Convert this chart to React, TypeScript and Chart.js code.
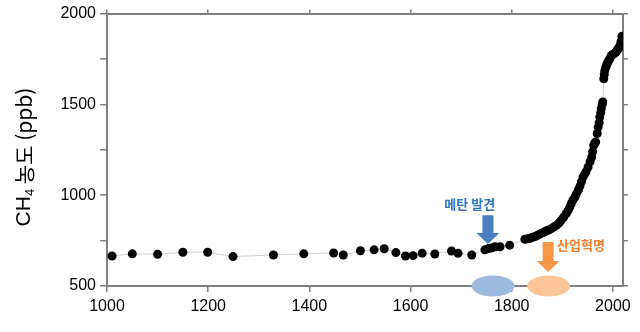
import React, { useEffect, useRef } from "react";
import { Chart, registerables } from "chart.js";

Chart.register(...registerables);

const YEARS = [
  1010, 1050, 1100, 1150, 1199, 1249, 1329, 1389, 1448, 1467,
  1501, 1528, 1548, 1571, 1590, 1605, 1623, 1648, 1681, 1694,
  1721, 1747, 1754, 1760, 1767, 1777, 1796, 1826, 1832, 1836,
  1841, 1846, 1851, 1855, 1859, 1864, 1869, 1874, 1879, 1884,
  1889, 1894, 1898, 1903, 1908, 1912, 1915, 1918, 1921, 1925,
  1928, 1932, 1935, 1938, 1941, 1944, 1947, 1951, 1955, 1958,
  1960, 1962, 1964, 1966, 1969, 1971, 1973, 1974, 1976, 1977,
  1979, 1980, 1982, 1983, 1984, 1986, 1988, 1990, 1992, 1994,
  1997, 2000, 2003, 2006, 2008, 2010, 2012, 2014, 2016, 2018,
];
const CH4_PPB = [
  665, 677, 675, 686, 686, 662, 671, 677, 682, 671,
  694, 699, 705, 684, 665, 667, 681, 676, 693, 680,
  671, 699, 706, 709, 716, 716, 725, 757, 760, 763,
  768, 772, 779, 785, 791, 797, 804, 810, 817, 826,
  835, 848, 863, 880, 899, 918, 936, 955, 973, 990,
  1009, 1030, 1050, 1075, 1100, 1115, 1130, 1155, 1185, 1210,
  1240, 1275, 1285, 1293, 1340, 1375, 1400, 1430, 1455, 1476,
  1500, 1513, 1641, 1665, 1686, 1705, 1720, 1732, 1742, 1752,
  1769, 1775, 1780, 1788, 1795, 1805, 1812, 1824, 1845, 1875,
];

const X_TICKS = [1000, 1200, 1400, 1600, 1800, 2000];
const Y_TICKS = [500, 750, 1000, 1250, 1500, 1750, 2000];
const Y_LABELED = [500, 1000, 1500, 2000];
const X_MIN = 1000;
const X_MAX = 2020;
const Y_MIN = 500;
const Y_MAX = 2000;

const Y_TITLE_MAIN = "CH";
const Y_TITLE_SUB = "4";
const Y_TITLE_REST = " 농도 (ppb)";

const DISCOVERY_LABEL = "메탄 발견";
const INDUSTRIAL_LABEL = "산업혁명";
// annotation anchors in data units: [year, ppb]
const DISCOVERY_ARROW = [1753, 890, 731];
const DISCOVERY_TEXT = [1717, 952];
const DISCOVERY_ELLIPSE = [1763, 500];
const INDUSTRIAL_ARROW = [1872, 742, 577];
const INDUSTRIAL_TEXT = [1937, 727];
const INDUSTRIAL_ELLIPSE = [1873, 500];

const AXIS_COLOR = "#7f7f7f";
const FONT = "'Liberation Sans', Arial, 'Noto Sans CJK KR', sans-serif";
const KFONT = "'Noto Sans CJK KR', 'Liberation Sans', sans-serif";

function drawDownArrow(ctx: CanvasRenderingContext2D, cx: number, top: number, tip: number, color: string) {
  const shaftHalf = 5.5;
  const headHalf = 11.5;
  const headLen = 11;
  ctx.save();
  ctx.fillStyle = color;
  ctx.beginPath();
  ctx.moveTo(cx - shaftHalf, top);
  ctx.lineTo(cx + shaftHalf, top);
  ctx.lineTo(cx + shaftHalf, tip - headLen);
  ctx.lineTo(cx + headHalf, tip - headLen);
  ctx.lineTo(cx, tip);
  ctx.lineTo(cx - headHalf, tip - headLen);
  ctx.lineTo(cx - shaftHalf, tip - headLen);
  ctx.closePath();
  ctx.fill();
  ctx.restore();
}

const annotationPlugin = {
  id: "annotations",
  afterDraw(chart: any) {
    const ctx: CanvasRenderingContext2D = chart.ctx;
    const xs = chart.scales.x;
    const ys = chart.scales.y;

    const ell = (pt: number[], color: string) => {
      ctx.save();
      ctx.fillStyle = color;
      ctx.beginPath();
      ctx.ellipse(xs.getPixelForValue(pt[0]), ys.getPixelForValue(pt[1]), 21.5, 10.5, 0, 0, Math.PI * 2);
      ctx.fill();
      ctx.restore();
    };
    ell(DISCOVERY_ELLIPSE, "#9db9dd");
    ell(INDUSTRIAL_ELLIPSE, "#fbc598");

    drawDownArrow(ctx, xs.getPixelForValue(DISCOVERY_ARROW[0]), ys.getPixelForValue(DISCOVERY_ARROW[1]), ys.getPixelForValue(DISCOVERY_ARROW[2]), "#4a7ebf");
    drawDownArrow(ctx, xs.getPixelForValue(INDUSTRIAL_ARROW[0]), ys.getPixelForValue(INDUSTRIAL_ARROW[1]), ys.getPixelForValue(INDUSTRIAL_ARROW[2]), "#f79646");

    ctx.save();
    ctx.textAlign = "center";
    ctx.textBaseline = "middle";
    ctx.font = `bold 13px ${KFONT}`;
    ctx.fillStyle = "#2e75c2";
    ctx.fillText(DISCOVERY_LABEL, xs.getPixelForValue(DISCOVERY_TEXT[0]), ys.getPixelForValue(DISCOVERY_TEXT[1]));
    ctx.fillStyle = "#f07f2c";
    ctx.fillText(INDUSTRIAL_LABEL, xs.getPixelForValue(INDUSTRIAL_TEXT[0]), ys.getPixelForValue(INDUSTRIAL_TEXT[1]));
    ctx.restore();

    // y-axis title with subscript
    ctx.save();
    ctx.translate(24, 157);
    ctx.rotate(-Math.PI / 2);
    ctx.fillStyle = "#000";
    ctx.textBaseline = "middle";
    ctx.textAlign = "left";
    const mainFont = `21px ${FONT}`;
    const subFont = `13px ${FONT}`;
    const restFont = `21px ${KFONT}`;
    ctx.font = mainFont;
    const w1 = ctx.measureText(Y_TITLE_MAIN).width;
    ctx.font = subFont;
    const w2 = ctx.measureText(Y_TITLE_SUB).width;
    ctx.font = restFont;
    const w3 = ctx.measureText(Y_TITLE_REST).width;
    let x = -(w1 + w2 + w3) / 2;
    ctx.font = mainFont;
    ctx.fillText(Y_TITLE_MAIN, x, 0);
    x += w1;
    ctx.font = subFont;
    ctx.fillText(Y_TITLE_SUB, x, 6);
    x += w2;
    ctx.font = restFont;
    ctx.fillText(Y_TITLE_REST, x, 0);
    ctx.restore();
  },
};

export default function App() {
  const ref = useRef<HTMLCanvasElement>(null);

  useEffect(() => {
    if (!ref.current) return;
    const points = YEARS.map((yr, i) => ({ x: yr, y: CH4_PPB[i] }));
    const gridBase = {
      display: true,
      drawOnChartArea: false,
      drawTicks: true,
      color: AXIS_COLOR,
      lineWidth: 1.5,
    };
    const chart = new Chart(ref.current, {
      type: "line",
      data: {
        datasets: [
          {
            data: points,
            borderColor: "#cfcfcf",
            borderWidth: 1,
            pointRadius: 4.5,
            pointHoverRadius: 4.5,
            pointBackgroundColor: "#000",
            pointBorderColor: "#000",
            pointBorderWidth: 0,
            tension: 0,
            xAxisID: "x",
            yAxisID: "y",
          },
        ],
      },
      options: {
        animation: false,
        responsive: false,
        devicePixelRatio: 1,
        layout: { padding: 0 },
        plugins: { legend: { display: false }, tooltip: { enabled: false } },
        scales: {
          x: {
            type: "linear",
            position: "bottom",
            min: X_MIN,
            max: X_MAX,
            afterBuildTicks: (s: any) => {
              s.ticks = X_TICKS.map((v) => ({ value: v }));
            },
            afterFit: (s: any) => {
              s.height = 46;
            },
            grid: { ...gridBase, tickLength: 6 },
            border: { display: true, color: AXIS_COLOR, width: 2 },
            ticks: {
              color: "#000",
              font: { size: 16, family: FONT },
              padding: 5,
              maxRotation: 0,
              autoSkip: false,
              callback: (v: any) => String(v),
            },
          },
          x2: {
            type: "linear",
            position: "top",
            min: X_MIN,
            max: X_MAX,
            afterBuildTicks: (s: any) => {
              s.ticks = X_TICKS.map((v) => ({ value: v }));
            },
            afterFit: (s: any) => {
              s.height = 13;
            },
            grid: { ...gridBase, tickLength: 4 },
            border: { display: true, color: AXIS_COLOR, width: 2 },
            ticks: { display: false },
          },
          y: {
            type: "linear",
            position: "left",
            min: Y_MIN,
            max: Y_MAX,
            afterBuildTicks: (s: any) => {
              s.ticks = Y_TICKS.map((v) => ({ value: v }));
            },
            afterFit: (s: any) => {
              s.width = 107;
            },
            grid: { ...gridBase, tickLength: 7 },
            border: { display: true, color: AXIS_COLOR, width: 2 },
            ticks: {
              color: "#000",
              font: { size: 16, family: FONT },
              padding: 4,
              autoSkip: false,
              callback: (v: any) => (Y_LABELED.includes(Number(v)) ? String(v) : ""),
            },
          },
          y2: {
            type: "linear",
            position: "right",
            min: Y_MIN,
            max: Y_MAX,
            afterBuildTicks: (s: any) => {
              s.ticks = Y_TICKS.map((v) => ({ value: v }));
            },
            afterFit: (s: any) => {
              s.width = 17;
            },
            grid: { ...gridBase, tickLength: 5 },
            border: { display: true, color: AXIS_COLOR, width: 2 },
            ticks: { display: false },
          },
        },
      },
      plugins: [annotationPlugin],
    } as any);
    return () => chart.destroy();
  }, []);

  return (
    <div style={{ position: "fixed", left: 0, top: 0, width: 640, height: 332, background: "#fff" }}>
      <canvas ref={ref} width={640} height={332} style={{ width: 640, height: 332, display: "block" }} />
    </div>
  );
}
